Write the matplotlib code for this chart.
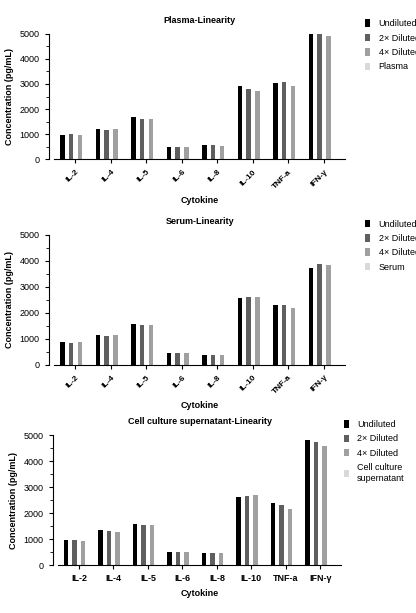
import numpy as np
import matplotlib
matplotlib.use('Agg')
import matplotlib.pyplot as plt
from matplotlib.ticker import MultipleLocator

plt.rcParams['font.family'] = ['Liberation Sans', 'DejaVu Sans']

cytokines = ['IL-2', 'IL-4', 'IL-5', 'IL-6', 'IL-8', 'IL-10', 'TNF-a', 'IFN-γ']
series = ['Undiluted', '2× Diluted', '4× Diluted']
colors = ['#000000', '#5f5f5f', '#a0a0a0', '#d9d9d9']

plasma = [[980, 1210, 1670, 480, 590, 2910, 3040, 5000],
          [1000, 1180, 1590, 480, 580, 2790, 3090, 5000],
          [980, 1200, 1610, 480, 550, 2720, 2930, 4910]]
serum = [[870, 1130, 1580, 470, 370, 2570, 2310, 3720],
         [850, 1120, 1520, 450, 360, 2600, 2310, 3870],
         [880, 1150, 1520, 460, 360, 2600, 2180, 3850]]
cell = [[980, 1360, 1570, 510, 480, 2640, 2400, 4800],
        [950, 1330, 1560, 500, 480, 2660, 2320, 4730],
        [930, 1280, 1560, 500, 480, 2690, 2180, 4600]]

panels = [('Plasma-Linearity', plasma, 'Plasma', True, [0.13, 0.74, 0.70, 0.205], 1.04),
          ('Serum-Linearity', serum, 'Serum', True, [0.13, 0.405, 0.70, 0.212], 1.04),
          ('Cell culture supernatant-Linearity', cell, 'Cell culture\nsupernatant', False,
           [0.14, 0.078, 0.68, 0.212], 0.98)]

fig = plt.figure(figsize=(4.16, 6.13), dpi=100)
x = np.arange(len(cytokines))
w = 0.17
for title, data, last, rot, pos, lx in panels:
    ax = fig.add_axes(pos)
    for i, vals in enumerate(data):
        ax.bar(x + (i - 1.5) * w * 1.45, vals, width=w * 0.75, color=colors[i], label=series[i])
    ax.bar(x + 1.5 * w * 1.45, [0] * len(x), width=w * 0.75, color=colors[3], label=last)
    ax.set_xticks(x)
    if rot:
        ax.set_xticklabels(cytokines, rotation=45, ha='right', rotation_mode='anchor',
                           fontsize=6, fontweight='bold')
    else:
        ax.set_xticklabels(cytokines, fontsize=6.5, fontweight='bold')
    ax.set_xlim(-0.6, 7.6)
    ax.set_ylim(0, 5000)
    ax.yaxis.set_major_locator(MultipleLocator(1000))
    ax.yaxis.set_minor_locator(MultipleLocator(500))
    ax.tick_params(axis='y', labelsize=6.5, width=0.8, length=3)
    ax.tick_params(axis='x', width=0.8, length=3)
    for t in ax.get_yticklabels():
        t.set_fontweight('bold')
    ax.spines['top'].set_visible(False)
    ax.spines['right'].set_visible(False)
    ax.spines['left'].set_position(('outward', 4))
    ax.set_title(title, fontsize=6.5, fontweight='bold', pad=8)
    ax.set_xlabel('Cytokine', fontsize=6.5, fontweight='bold')
    ax.set_ylabel('Concentration (pg/mL)', fontsize=6.5, fontweight='bold')
    ax.legend(loc='upper left', bbox_to_anchor=(lx, 1.18), frameon=False, fontsize=6.5,
              handlelength=0.6, handleheight=0.9, labelspacing=0.6, handletextpad=0.9)

fig.savefig('out.png', dpi=100)
